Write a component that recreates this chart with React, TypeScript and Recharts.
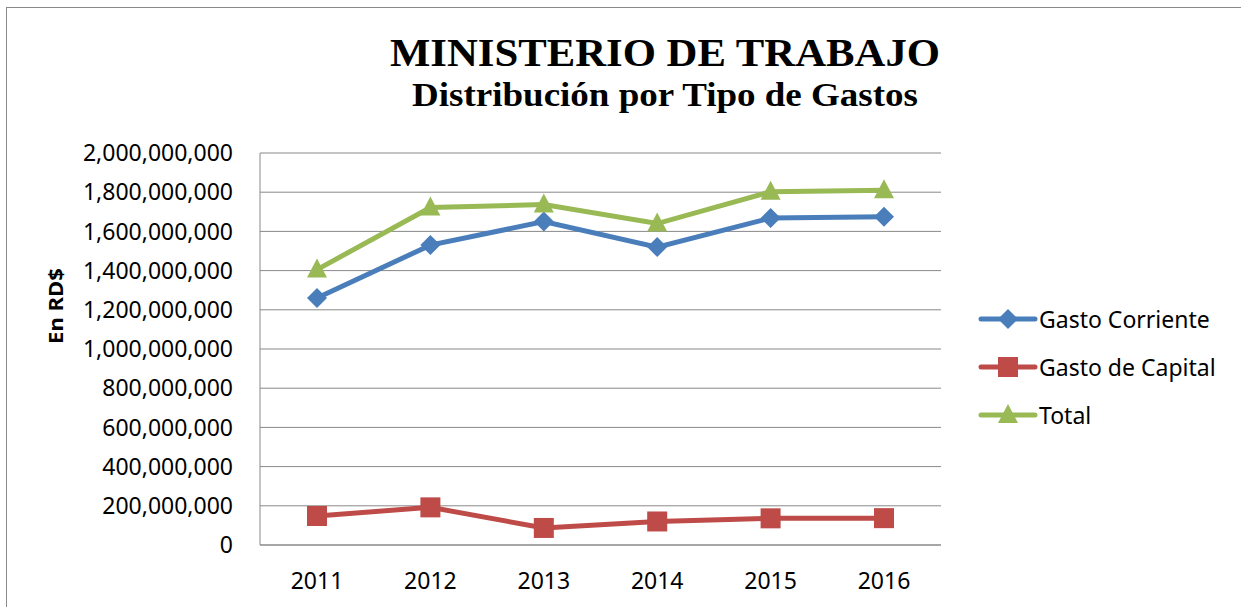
import React from "react";
import { CartesianGrid, Line, LineChart, XAxis, YAxis } from "recharts";

const YEARS = ["2011", "2012", "2013", "2014", "2015", "2016"];
const GASTO_CORRIENTE = [1260000000, 1530000000, 1650000000, 1520000000, 1668000000, 1675000000];
const GASTO_CAPITAL = [148000000, 192000000, 87000000, 120000000, 136000000, 137000000];
const TOTAL = [1405000000, 1722000000, 1737000000, 1640000000, 1802000000, 1810000000];
const Y_TICKS = [0, 200000000, 400000000, 600000000, 800000000, 1000000000, 1200000000, 1400000000, 1600000000, 1800000000, 2000000000];

const data = YEARS.map((year, i) => ({
  year,
  corriente: GASTO_CORRIENTE[i],
  capital: GASTO_CAPITAL[i],
  total: TOTAL[i],
}));

const SANS = "'Noto Sans', sans-serif";
const SERIF = "'Liberation Serif', 'Times New Roman', serif";
const GRID = "#898989";

type Shape = "diamond" | "square" | "triangle";

const SERIES: { key: string; name: string; color: string; shape: Shape }[] = [
  { key: "corriente", name: "Gasto Corriente", color: "#4A7EBB", shape: "diamond" },
  { key: "capital", name: "Gasto de Capital", color: "#BE4B48", shape: "square" },
  { key: "total", name: "Total", color: "#98B954", shape: "triangle" },
];

function Marker({ cx, cy, shape, color }: { cx: number; cy: number; shape: Shape; color: string }) {
  if (cx == null || cy == null) return null;
  if (shape === "diamond") {
    const r = 10;
    return <path d={`M${cx},${cy - r}L${cx + r},${cy}L${cx},${cy + r}L${cx - r},${cy}Z`} fill={color} />;
  }
  if (shape === "square") {
    const r = 10;
    return <rect x={cx - r} y={cy - r} width={r * 2} height={r * 2} fill={color} />;
  }
  return <path d={`M${cx},${cy - 11}L${cx + 10},${cy + 8}L${cx - 10},${cy + 8}Z`} fill={color} />;
}

// legend drawn outside the chart so it doesn't shrink the plot area
function LegendBox() {
  return (
    <div style={{ position: "absolute", left: 978, top: 295, fontFamily: SANS, fontSize: 23 }}>
      {SERIES.map((s) => (
        <div key={s.key} style={{ display: "flex", alignItems: "center", height: 48 }}>
          <svg width={60} height={26}>
            <line x1={3} y1={13} x2={57} y2={13} stroke={s.color} strokeWidth={5} strokeLinecap="round" />
            <Marker cx={30} cy={13} shape={s.shape} color={s.color} />
          </svg>
          <span style={{ color: "#000", marginLeft: 1 }}>{s.name}</span>
        </div>
      ))}
    </div>
  );
}

export default function App() {
  return (
    <div style={{ position: "absolute", left: 0, top: 0, width: 1241, height: 607, background: "#fff", overflow: "hidden" }}>
      <div
        style={{
          position: "absolute",
          left: 6,
          top: 7,
          width: 1260,
          height: 640,
          border: "1.5px solid #8a8a8a",
        }}
      />
      <LineChart
        width={1241}
        height={607}
        data={data}
        margin={{ top: 153, right: 300, bottom: 22, left: 60 }}
        style={{ position: "absolute", left: 0, top: 0 }}
      >
        <text x={665} y={66} textAnchor="middle" fontFamily={SERIF} fontWeight="bold" fontSize={41} textLength={550} lengthAdjust="spacingAndGlyphs">
          MINISTERIO DE TRABAJO
        </text>
        <text x={665} y={106} textAnchor="middle" fontFamily={SERIF} fontWeight="bold" fontSize={34} textLength={506} lengthAdjust="spacingAndGlyphs">
          Distribución por Tipo de Gastos
        </text>
        <text
          x={0}
          y={0}
          transform="translate(63,306) rotate(-90)"
          textAnchor="middle"
          fontFamily={SANS}
          fontWeight="bold"
          fontSize={19}
          textLength={76}
          lengthAdjust="spacingAndGlyphs"
          fill="#000"
        >
          En RD$
        </text>
        <CartesianGrid vertical={false} stroke={GRID} strokeWidth={1} />
        <XAxis
          dataKey="year"
          height={40}
          padding={{ left: 57, right: 57 }}
          tickLine={false}
          axisLine={{ stroke: GRID }}
          tick={{ fontFamily: SANS, fontSize: 23, fill: "#000", dy: 20 }}
        />
        <YAxis
          width={200}
          domain={[0, 2000000000]}
          ticks={Y_TICKS}
          interval={0}
          tickLine={false}
          axisLine={{ stroke: GRID }}
          tickFormatter={(v: number) => v.toLocaleString("en-US")}
          tick={{ fontFamily: SANS, fontSize: 23, fill: "#000", dx: -19 }}
        />
        {SERIES.map((s) => (
          <Line
            key={s.key}
            dataKey={s.key}
            name={s.name}
            type="linear"
            stroke={s.color}
            strokeWidth={5}
            isAnimationActive={false}
            dot={(p: any) => <Marker key={`${s.key}-${p.index}`} cx={p.cx} cy={p.cy} shape={s.shape} color={s.color} />}
            activeDot={false}
          />
        ))}
      </LineChart>
      <LegendBox />
    </div>
  );
}
